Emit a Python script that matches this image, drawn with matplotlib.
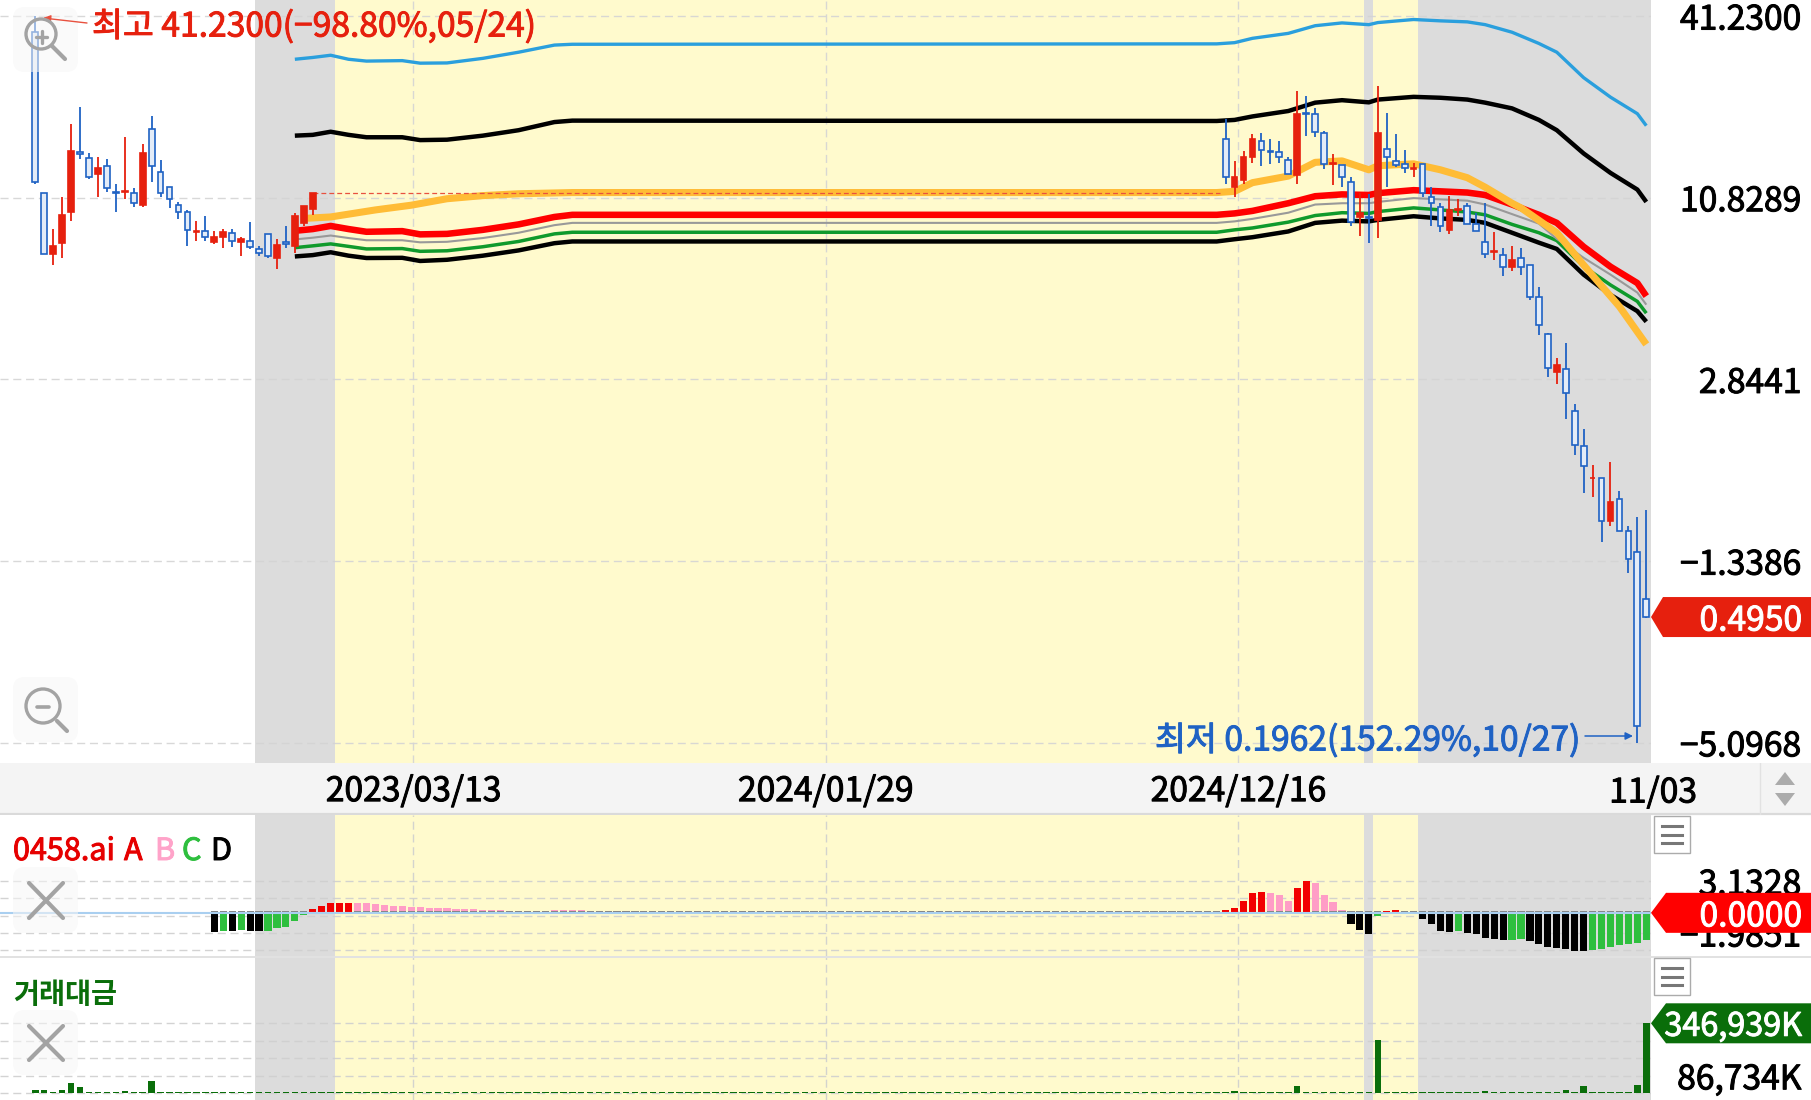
import numpy as np
import matplotlib
matplotlib.use("Agg")
import matplotlib.ticker
import matplotlib.patheffects as pe
from matplotlib.text import Text
import matplotlib.pyplot as plt
from matplotlib.patches import Rectangle, Polygon, FancyBboxPatch, Circle

# ---------------- data ----------------
# candles, first block (index 0..31)
open_a  = [36.7,11.2,7.17,7.78,9.75,15.2,14.5,12.9,13.7,11.3,11.3,11.25,10.3,17.9,13.1,11.75,10.3,9.75,8.43,8.49,7.83,8.13,8.37,7.83,7.9,7.45,8.3,6.96,7.83,7.6,9.0,9.98]
high_a  = [41.23,11.2,8.6,10.9,18.6,21.1,15.1,14.6,14.4,11.95,16.9,11.6,16.1,19.8,14.3,11.75,10.5,9.9,9.13,9.45,8.49,8.6,8.6,8.13,9.06,7.6,8.3,8.0,8.77,9.66,10.2,11.2]
low_a   = [11.95,7.17,6.6,6.96,9.13,14.4,12.4,10.9,11.3,9.75,10.75,10.1,10.1,12.2,10.9,10.05,9.28,7.6,7.9,7.9,7.71,7.5,7.55,7.07,7.45,7.07,6.93,6.43,7.5,7.2,8.77,9.53]
close_a = [12.2,7.17,7.6,9.55,15.3,14.9,12.6,13.5,11.6,11.2,11.4,10.4,15.1,13.7,11.2,10.7,9.75,8.55,8.49,8.13,8.13,8.43,7.9,8.0,7.55,7.2,7.07,7.66,7.71,9.45,10.2,11.2]
# candles, second block (index 133..180)
open_b  = [16.7,11.75,12.3,14.6,16.4,15.3,15.2,14.3,12.8,20.2,20.1,17.4,13.9,13.8,12.2,9.4,9.4,9.2,15.5,14.2,13.9,13.4,13.9,10.9,10.1,8.55,9.9,10.2,8.9,7.83,7.28,7.1,6.52,6.96,6.6,5.23,3.98,3.0,3.08,2.25,1.74,1.375,1.375,1.0,1.18,0.93,0.797,0.564]
high_b  = [19.3,14.2,15.3,17.3,17.4,16.7,16.4,14.6,23.7,22.9,21.0,17.7,14.9,13.8,12.6,11.25,11.1,24.7,20.2,17.3,15.4,14.0,13.9,11.7,10.4,11.0,10.75,10.4,9.66,10.4,8.43,7.5,7.6,7.5,6.6,5.6,4.0,3.34,3.73,2.38,1.98,1.51,1.38,1.55,1.25,0.97,1.03,1.09]
low_b   = [12.0,10.9,11.95,14.0,13.7,13.9,14.0,12.9,11.95,17.0,16.9,13.4,11.85,11.75,8.77,8.2,7.78,8.07,11.7,13.6,13.0,12.6,10.9,8.8,8.43,8.3,9.45,8.95,8.49,6.96,6.86,6.1,6.33,6.15,5.12,3.95,2.9,2.76,2.13,1.63,1.23,1.2,0.857,0.97,0.93,0.685,0.1962,0.49]
close_b = [12.6,12.6,14.6,16.7,15.4,15.2,14.6,12.9,20.1,20.1,17.6,13.9,14.0,12.6,9.06,9.66,9.33,17.4,14.6,13.8,13.5,13.5,11.25,10.4,8.77,9.9,9.98,8.95,8.49,7.17,7.33,6.52,6.86,6.52,5.23,4.23,3.1,3.17,2.58,1.75,1.5,1.38,1.0,1.15,0.935,0.757,0.222,0.495]
peak_mark = 11.2

# overlay lines
line_idx = [29,31,33,35,37,41,43,46,50,54,58,60,132,134,136,140,143,146,149,150,154,157,160,162,165,168,170,173,176,179,180]
band_blue = [30.0,30.4,30.9,30.0,29.6,29.7,29.15,29.2,30.2,31.6,33.3,33.5,33.6,33.9,35.0,36.3,38.4,39.2,38.7,39.3,40.2,39.8,39.5,38.7,36.6,33.7,31.6,26.2,22.7,20.1,18.4]
band_black = [17.1,17.2,17.6,17.2,16.9,16.9,16.55,16.6,17.1,17.8,18.9,19.1,19.05,19.2,19.7,20.5,21.8,22.2,21.85,22.3,22.75,22.6,22.3,21.8,20.9,19.2,17.8,15.0,13.0,11.5,10.5]
line_red   = [8.49,8.6,8.8,8.6,8.43,8.47,8.27,8.3,8.55,8.9,9.4,9.55,9.55,9.65,9.83,10.4,10.95,11.1,11.05,11.2,11.45,11.35,11.25,11.05,10.3,9.55,9.0,7.55,6.52,5.78,5.25]
line_gray  = [7.97,8.07,8.2,8.05,7.92,7.92,7.8,7.83,8.05,8.37,8.85,9.0,9.0,9.1,9.27,9.7,10.3,10.4,10.4,10.5,10.8,10.7,10.6,10.3,9.6,8.95,8.0,6.96,6.15,5.39,4.93]
line_green = [7.5,7.6,7.71,7.57,7.43,7.45,7.3,7.33,7.55,7.85,8.3,8.4,8.4,8.55,8.67,9.05,9.5,9.7,9.65,9.78,10.05,9.9,9.75,9.55,8.9,8.37,7.9,6.53,5.7,5.05,4.63]
line_low   = [7.03,7.1,7.25,7.07,6.95,6.96,6.8,6.86,7.07,7.35,7.75,7.85,7.85,7.98,8.1,8.45,9.0,9.15,9.1,9.2,9.45,9.3,9.2,9.0,8.37,7.78,7.43,6.15,5.3,4.7,4.35]
orange_idx = [30,33,38,42,46,50,54,60,132,134,136,140,143,146,149,150,154,157,160,162,165,166,170,173,177,180]
line_orange = [9.3,9.4,9.9,10.25,10.75,11.0,11.15,11.25,11.25,11.35,12.1,12.7,14.05,14.2,13.3,13.7,13.9,13.3,12.55,11.7,10.4,10.05,8.37,6.6,4.86,3.68]

# indicator histogram
ind_a = [-1.84,-1.74,-1.74,-1.67,-1.74,-1.74,-1.74,-1.54,-1.38,-0.79,-0.2,
         0.39,0.72,0.92,0.98,0.98,0.98,0.95,0.89,0.82,0.72,0.69,0.62,0.59,0.52,0.49,0.43,0.39,0.36,0.33,0.3,0.26,0.23]
ind_a_col = "kgkgkkggggg" + "rrrrr" + "p"*17
ind_mid_idx = [58, 59, 60, 61]
ind_mid = [0.26, 0.26, 0.23, 0.23]
ind_b = [0.3,0.49,1.12,1.94,2.03,2.0,1.74,1.12,2.49,3.15,2.92,1.77,1.05,0.23,
         -1.08,-1.67,-2.13,-0.3,0.16,0.26,0.03,0.03,-0.56,-1.05,-1.77,-1.84,-1.77,-1.97,-2.13,-2.46,-2.56,-2.72,-2.66,-2.62,
         -2.82,-3.05,-3.41,-3.51,-3.58,-3.71,-3.74,-3.64,-3.54,-3.41,-3.21,-3.05,-2.95,-2.72]
ind_b_col = "rrrrrppprrppppkkkgrrppkkkkg" + "kkkkk" + "gg" + "kkkkkkk" + "ggggggg"

# traded value, thousands
vol_a = [14900,14900,6000,16500,52900,29700,6000,6000,6000,6000,11500,6000,6500,59500,6500,6000,6000,6000,6000,6000,6000,6000,6000,6000,6000,6000,6000,6000,7500,6000,6000,6000]
vol_mid = [6000] * 101
vol_b = [6000,11500,6000,6000,6000,6000,6000,6000,38000,6000,6000,6000,6000,6000,6000,6000,6000,264000,6000,6000,6000,6000,6000,6000,6000,6000,6000,6000,6000,13200,6500,6500,6000,6000,6000,6000,6000,6000,16500,6500,36000,6000,6500,6000,6000,6000,39700,346939]

main_ticks = [41.23, 10.8289, 2.8441, 0.747, 0.1962]
main_labels = ["41.2300", "10.8289", "2.8441", "\u22121.3386", "\u22125.0968"]
ind_ticks = [3.1328, 1.4268, -0.2792, -1.9851, -3.69]
ind_labels = ["3.1328", "", "", "\u22121.9851", ""]
vol_ticks = [0, 86734, 173469, 260204, 346939]
vol_labels = ["", "86,734K", "", "", ""]
date_pos = [42.25, 88.3, 134.4]
date_labels = ["2023/03/13", "2024/01/29", "2024/12/16"]
last_close = close_b[-1]

# ---------------- style ----------------
plt.rcParams["font.family"] = ["Noto Sans CJK KR", "DejaVu Sans"]
plt.rcParams["lines.scale_dashes"] = False
W, H = 1811, 1100
RED, BLUE, GRN = "#E6200E", "#1F62C4", "#0A6E0A"
GRAYB, YEL = "#DCDCDC", "#FFFACD"
FS = 24.2
DASH = (0, (5.8, 3.4))
BAR_PX, X0_PX, RIGHT_PX = 8.95, 35.3, 1651

fig = plt.figure(figsize=(W / 100, H / 100), dpi=100, facecolor="white")

def pane(top, bottom, z=1):
    return fig.add_axes([0, 1 - bottom / H, RIGHT_PX / W, (bottom - top) / H], zorder=z)

def setup(ax, ticks, labels):
    for s in ax.spines.values():
        s.set_visible(False)
    ax.set_facecolor("white")
    ax.axvspan(33.5 - 9, 33.5, color=GRAYB, lw=0, zorder=0)
    ax.axvspan(33.5, 154.5, color=YEL, lw=0, zorder=0)
    ax.axvspan(148.45, 149.45, color=GRAYB, lw=0, zorder=0.1)
    ax.axvspan(154.5, 182, color=GRAYB, lw=0, zorder=0)
    ax.set_xlim(-X0_PX / BAR_PX, (RIGHT_PX - X0_PX) / BAR_PX)
    ax.set_axisbelow(True)
    ax.grid(True, color="#D4D4D4", lw=1.0, linestyle=DASH, alpha=0.9)
    ax.yaxis.tick_right()
    ax.set_yticks(ticks)
    ax.set_yticklabels(labels, fontsize=FS, ha="right", va="center_baseline")
    ax.yaxis.set_minor_locator(matplotlib.ticker.NullLocator())
    ax.tick_params(axis="y", which="both", length=0, pad=(1801 - RIGHT_PX) * 0.72)
    ax.set_xticks(date_pos)
    ax.tick_params(axis="x", length=0)

# strip behind everything
strip = fig.add_axes([0, 1 - 815 / H, 1, 52 / H], zorder=0)
strip.set_xlim(0, W); strip.set_ylim(815, 763); strip.axis("off")
strip.add_patch(Rectangle((0, 763), W, 52, color="#F4F4F4", lw=0))
strip.plot([0, W], [814.3, 814.3], color="#DADADA", lw=1.6, clip_on=False)
strip.plot([1760, 1760], [763, 814], color="#E2E2E2", lw=1)

# main pane
ax = pane(0, 763)
ax.set_yscale("log")
ax.set_ylim(0.1691, 46.4)
setup(ax, main_ticks, main_labels)
ax.set_xticklabels(date_labels, fontsize=FS)
ax.tick_params(axis="x", pad=8)

ax.plot(line_idx, band_blue, color="#2A9FDD", lw=2.4, zorder=3, solid_capstyle="butt")
ax.plot(line_idx, band_black, color="black", lw=3.2, zorder=3, solid_capstyle="butt")
ax.plot(line_idx, line_low, color="black", lw=3.2, zorder=3, solid_capstyle="butt")
ax.plot(line_idx, line_green, color="#0F9A2C", lw=2.5, zorder=3.1, solid_capstyle="butt")
ax.plot(line_idx, line_gray, color="#999999", lw=1.5, zorder=3.1, solid_capstyle="butt")
ax.plot(line_idx, line_red, color="#FF0000", lw=4.7, zorder=3.2, solid_capstyle="butt")
ax.plot(orange_idx, line_orange, color="#FFBC36", lw=5.1, zorder=3.3, solid_capstyle="butt")
ax.hlines(peak_mark, 31, 132.4, color="#E8513F", lw=0.9, linestyle=(0, (3.5, 2.2)), zorder=3.4)

def candles(start, o, h, l, c):
    o, h, l, c = map(np.array, (o, h, l, c))
    x = start + np.arange(len(o))
    up = c >= o
    ax.vlines(x[up], l[up], h[up], color=RED, lw=1.3, zorder=4)
    ax.vlines(x[~up], l[~up], h[~up], color=BLUE, lw=1.3, zorder=4)
    ax.bar(x[up], (c - o)[up], bottom=o[up], width=0.64, facecolor=RED, edgecolor=RED, lw=1.2, zorder=5)
    ax.bar(x[~up], (o - c)[~up], bottom=c[~up], width=0.64, facecolor="#E3ECF8", edgecolor=BLUE, lw=1.2, zorder=5)

candles(0, open_a, high_a, low_a, close_a)
candles(133, open_b, high_b, low_b, close_b)

# indicator pane
ax2 = pane(815, 957)
ax2.set_ylim(-4.347, 9.629)
setup(ax2, ind_ticks, ind_labels)
ax2.set_xticklabels([])
ax2.grid(True, color="#CFCFCF", lw=1.0, linestyle=DASH)
ind_x = np.concatenate([np.arange(20, 20 + len(ind_a)), ind_mid_idx, np.arange(133, 133 + len(ind_b))])
ind_v = np.array(ind_a + ind_mid + ind_b)
ind_c = np.array(list(ind_a_col + "p" * len(ind_mid) + ind_b_col))
cmap = {"r": "#F20000", "p": "#FF9DC6", "g": "#2EBF3E", "k": "black"}
zmap = {"r": 4, "p": 2, "g": 4, "k": 4}
for key in cmap:
    m = ind_c == key
    ax2.bar(ind_x[m], ind_v[m], width=0.8, color=cmap[key], lw=0, zorder=zmap[key])
base_x = np.arange(20, 181)
ax2.bar(base_x, [0.15] * len(base_x), bottom=0.07, width=0.8, color="#858585", lw=0, zorder=3)
ax2.axhline(0, color="#A9CFF0", lw=1.5, zorder=5)

# traded value pane
ax3 = pane(957, 1100)
ax3.set_ylim(-33100, 675500)
setup(ax3, vol_ticks, vol_labels)
ax3.set_xticklabels([])
ax3.grid(True, color="#CFCFCF", lw=1.0, linestyle=DASH)
vol = np.array(vol_a + vol_mid + vol_b)
ax3.bar(np.arange(len(vol)), vol, width=0.72, color=GRN, lw=0, zorder=4)

# overlay: annotations, tags, buttons
ov = fig.add_axes([0, 0, 1, 1], zorder=10)
ov.set_xlim(0, W); ov.set_ylim(H, 0); ov.axis("off"); ov.patch.set_alpha(0)

def ypx(a, v):
    return H - a.transData.transform((0, v))[1]

ov.plot([0, W], [957, 957], color="#E2E2E2", lw=1.4, zorder=1)

def tag(y, color, text, x_body, tip=1651, fs=FS):
    ov.add_patch(Polygon([(tip, y), (x_body, y - 20), (1811, y - 20), (1811, y + 20), (x_body, y + 20)],
                         closed=True, facecolor=color, edgecolor="none", zorder=5))
    ov.text(1802, y, text, color="white", fontsize=fs, ha="right", va="center_baseline", zorder=6)

tag(ypx(ax, last_close), RED, "0.4950", 1663)
tag(ypx(ax2, 0), "#FF0000", "0.0000", 1666)
tag(ypx(ax3, vol[-1]), GRN, "346,939K", 1666, fs=23.3)

ov.text(92, 23, "최고 41.2300(\u221298.80%,05/24)", color=RED, fontsize=FS, va="center_baseline", ha="left")
ov.annotate("", xy=(43, 18), xytext=(87, 23),
            arrowprops=dict(arrowstyle="-|>", color="#E8513F", lw=1, shrinkA=0, shrinkB=0, mutation_scale=11))
ov.text(1155, 737, "최저 0.1962(152.29%,10/27)", color=BLUE, fontsize=FS, va="center_baseline", ha="left")
ov.annotate("", xy=(1633, 736), xytext=(1585, 736),
            arrowprops=dict(arrowstyle="-|>", color=BLUE, lw=1.1, shrinkA=0, shrinkB=0, mutation_scale=11))

ov.text(1653, 789, "11/03", color="black", fontsize=FS, ha="center", va="center_baseline")
ov.add_patch(Polygon([(1785, 772), (1775, 785), (1795, 785)], color="#ABABAB", lw=0))
ov.add_patch(Polygon([(1785, 806), (1775, 793), (1795, 793)], color="#ABABAB", lw=0))

def box(x0, y0, x1, y1):
    ov.add_patch(FancyBboxPatch((x0 + 9, y0 + 9), x1 - x0 - 18, y1 - y0 - 18, boxstyle="round,pad=9,rounding_size=12",
                                facecolor="#F6F6F6", edgecolor="none", alpha=0.55, zorder=2))

box(13, 7, 78, 72)
box(13, 677, 78, 742)
box(13, 867, 78, 933)
box(13, 1010, 78, 1075)
GI = "#A3A3A3"
ov.add_patch(Circle((41, 34), 15, fill=False, edgecolor=GI, lw=2.4, zorder=3))
ov.plot([52, 65], [46, 59], color=GI, lw=3, solid_capstyle="round", zorder=3)
ov.plot([36, 47], [37, 37], color=GI, lw=2.4, solid_capstyle="round", zorder=3)
ov.plot([41.5, 41.5], [31, 43], color=GI, lw=2.4, solid_capstyle="round", zorder=3)
ov.add_patch(Circle((43, 706), 17, fill=False, edgecolor=GI, lw=2.4, zorder=3))
ov.plot([57, 67], [721, 731], color=GI, lw=3, solid_capstyle="round", zorder=3)
ov.plot([37, 49], [707, 707], color=GI, lw=2.6, solid_capstyle="round", zorder=3)
for (a, b) in [(883, 918), (1026, 1060)]:
    ov.plot([29, 63], [a, b], color=GI, lw=3, solid_capstyle="round", zorder=3)
    ov.plot([29, 63], [b, a], color=GI, lw=3, solid_capstyle="round", zorder=3)

for top in (816, 958):
    ov.add_patch(Rectangle((1654, top), 36, 37, facecolor="white", edgecolor="#ABABAB", lw=1, zorder=3))
    for dy in (10, 18.5, 27):
        ov.plot([1662, 1682], [top + dy, top + dy], color="#777777", lw=2.2, zorder=4)

for x, s, c in [(13, "0458.ai", "#E60000"), (124, "A", "#E60000"), (155, "B", "#FFA3C9"),
                (182, "C", "#2EBF3E"), (211, "D", "black")]:
    ov.text(x, 848, s, color=c, fontsize=22, ha="left", va="center_baseline")
ov.text(13, 992, "거래대금", color=GRN, fontsize=20.4, fontweight="bold", ha="left", va="center_baseline")

# medium-weight look for regular text
for t in fig.findobj(Text):
    if t.get_text() and t.get_fontweight() != "bold":
        t.set_path_effects([pe.withStroke(linewidth=0.7, foreground=t.get_color())])

fig.savefig("out.png", dpi=100, facecolor="white")
